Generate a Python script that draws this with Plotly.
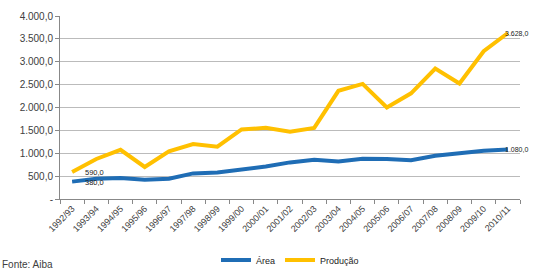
import plotly.graph_objects as go

safras = ["1992/93", "1993/94", "1994/95", "1995/96", "1996/97", "1997/98", "1998/99",
          "1999/00", "2000/01", "2001/02", "2002/03", "2003/04", "2004/05", "2005/06",
          "2006/07", "2007/08", "2008/09", "2009/10", "2010/11"]
area = [380, 440, 460, 420, 445, 560, 580, 640, 710, 800, 860, 820, 880, 875, 845, 945, 1000, 1055, 1080]
producao = [590, 875, 1075, 700, 1040, 1200, 1145, 1520, 1555, 1470, 1555, 2365, 2515, 2000,
            2310, 2850, 2525, 3230, 3628]
yticks = [0, 500, 1000, 1500, 2000, 2500, 3000, 3500, 4000]


def br(v):
    s = f"{v:,.1f}"
    return s.replace(",", "X").replace(".", ",").replace("X", ".")


L, R, T, B = 60, 13, 16, 70
W, H = 533, 269
pw, ph = W - L - R, H - T - B

fig = go.Figure()
fig.add_trace(go.Scatter(x=safras, y=area, name="Área", mode="lines",
                         line=dict(color="#1F6DB5", width=4)))
fig.add_trace(go.Scatter(x=safras, y=producao, name="Produção", mode="lines",
                         line=dict(color="#FFC000", width=4)))

n = len(safras)
annots = []
lab_font = dict(size=7, color="#222222", family="Liberation Sans")
for vals, yshift in ((producao, 0), (area, -1)):
    annots.append(dict(x=0.5 / n, y=vals[0], text=br(vals[0]), xref="paper", yref="y",
                       xanchor="left", yanchor="middle", xshift=11, yshift=yshift,
                       showarrow=False, font=dict(size=7.5, color="#222222", family="Liberation Sans")))
    annots.append(dict(x=(n - 0.5) / n, y=vals[-1], text=br(vals[-1]), xref="paper", yref="y",
                       xanchor="left", yanchor="middle", xshift=-5, yshift=0,
                       showarrow=False, font=lab_font))
annots.append(dict(text="Fonte: Aiba", xref="paper", yref="paper",
                   x=-L / pw, y=(T + ph - 264) / ph, xanchor="left", yanchor="middle",
                   showarrow=False, font=dict(size=10, color="#404040")))

fig.update_layout(
    width=W, height=H,
    margin=dict(l=L, r=R, t=T, b=B, autoexpand=False),
    paper_bgcolor="white", plot_bgcolor="white",
    font=dict(family="Liberation Sans", color="#404040"),
    showlegend=True,
    legend=dict(orientation="h", x=0.5, xanchor="center", y=(T + ph - 260) / ph, yanchor="middle",
                font=dict(size=9, color="#222222"), tracegroupgap=0,
                bgcolor="rgba(0,0,0,0)"),
    xaxis=dict(type="category", range=[-0.5, n - 0.5], tickangle=-45, tickson="boundaries",
               ticks="outside", ticklen=4, tickcolor="#888888", showline=True,
               linecolor="#888888", linewidth=1, showgrid=False,
               tickfont=dict(size=9, color="#404040")),
    yaxis=dict(range=[0, 4000], tickvals=yticks,
               ticktext=["-" if v == 0 else br(v) for v in yticks],
               showgrid=True, gridcolor="#BBBBBB", gridwidth=1, showline=True,
               linecolor="#888888", ticks="outside", ticklen=4, tickcolor="#888888",
               zeroline=False, tickfont=dict(size=10, color="#404040")),
    annotations=annots,
)

fig.write_html("out.html", config={"displayModeBar": False},
               post_script="document.body.style.margin='0';document.body.style.overflow='hidden';")
